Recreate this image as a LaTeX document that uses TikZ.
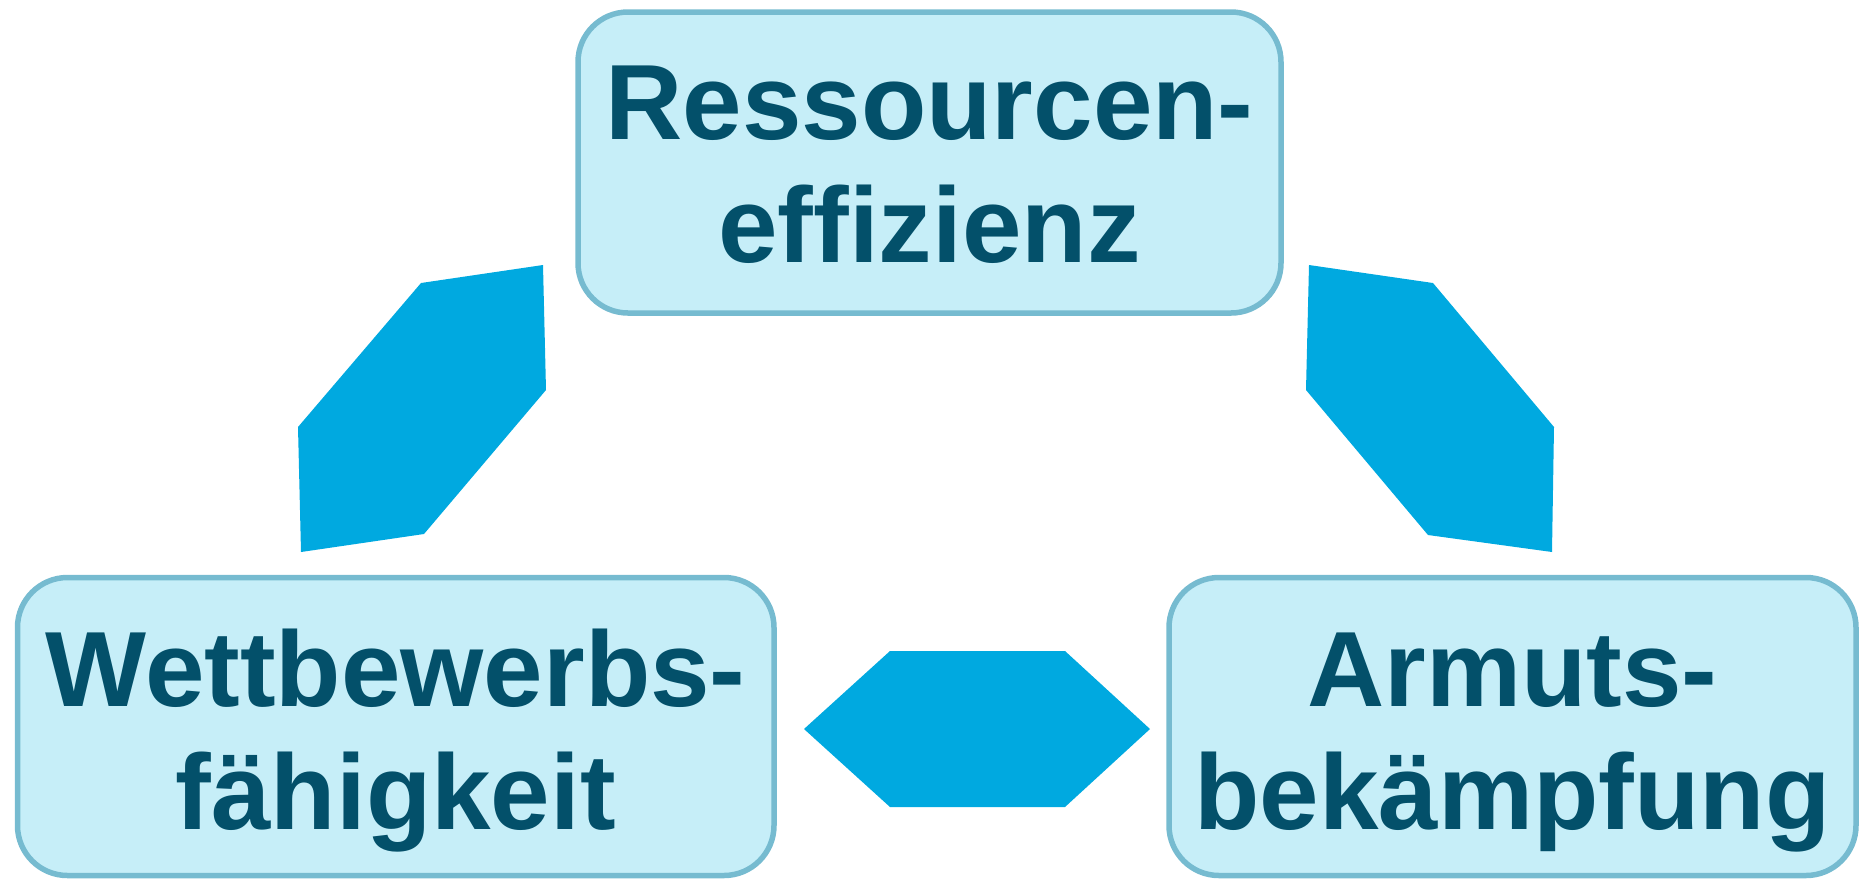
\documentclass[tikz,border=0pt]{standalone}
\usepackage{fontspec}
\setmainfont{Liberation Sans}
\definecolor{boxfill}{HTML}{C6EEF8}
\definecolor{boxline}{HTML}{76BBD0}
\definecolor{textcol}{HTML}{03506A}
\definecolor{arrowblue}{HTML}{00A9E0}
\tikzset{
  box/.style={draw=boxline, line width=2.75pt, fill=boxfill, rounded corners=25pt,
              inner sep=0pt, outer sep=0pt, minimum height=149pt},
  lbl/.style={font=\fontsize{53.5pt}{61.5pt}\selectfont\bfseries, text=textcol,
              inner sep=0pt, anchor=base},
  arrowshape/.style={fill=arrowblue, draw=none}
}
\begin{document}
\begin{tikzpicture}[x=0.5pt,y=-0.5pt]
\useasboundingbox (0,0) rectangle (1859,880);
% boxes
\node[box, minimum width=351.5pt, minimum height=150.5pt] (res) at (929.5,162.5) {};
\node[box, minimum width=378.25pt] (wett) at (395.75,726.5) {};
\node[box, minimum width=343.5pt] (arm) at (1512.5,726.5) {};
% labels
\node[lbl] (res1) at (929.5,139) {Ressourcen-};
\node[lbl] (res2) at (929.5,262.5) {effizienz};
\node[lbl] (wett1) at (395.75,706.5) {Wettbewerbs-};
\node[lbl] (wett2) at (395.75,829) {fähigkeit};
\node[lbl] (arm1) at (1512.5,706) {Armuts-};
\node[lbl] (arm2) at (1512.5,829) {bekämpfung};
% double-headed block arrows
\fill[arrowshape] (543,265) -- (421,283) -- (298,427) -- (301,552) -- (424,534) -- (546,390) -- cycle;
\fill[arrowshape] (1309,265) -- (1433,283) -- (1554,427) -- (1552,552) -- (1428,535) -- (1306,390) -- cycle;
\fill[arrowshape] (804,729) -- (890,651) -- (1065,651) -- (1150,729) -- (1065,807) -- (890,807) -- cycle;
\end{tikzpicture}
\end{document}
